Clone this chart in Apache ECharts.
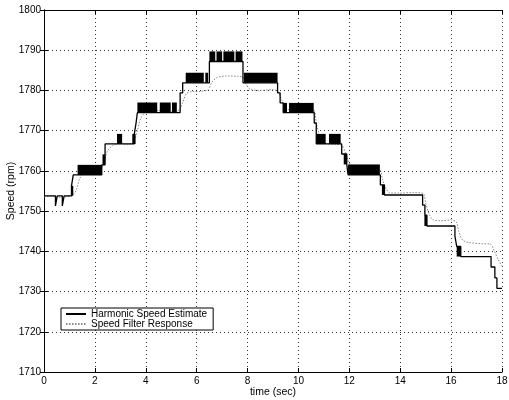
<!DOCTYPE html>
<html>
<head>
<meta charset="utf-8">
<script src="https://cdn.jsdelivr.net/npm/echarts@6/dist/echarts.min.js"></script>
<style>html,body{margin:0;padding:0;background:#fff;}#c{width:509px;height:400px;}</style>
</head>
<body>
<div id="c"></div>
<script>
// Harmonic Speed Estimate: step levels [time (sec), speed (rpm)], value held until next time
var estimateSteps = [
  [0, 1753.8], [0.45, 1751.3], [0.52, 1753.8], [0.72, 1751.3], [0.79, 1753.8],
  [1.08, 1756.3], [1.15, 1759.0], [2.27, 1761.5], [2.4, 1766.7],
  [3.55, 1769.2], [3.62, 1772.0], [3.67, 1774.5], [5.35, 1779.4], [5.45, 1781.9],
  [6.5, 1787.2], [7.82, 1781.9], [9.18, 1779.4], [9.28, 1776.9], [9.4, 1774.5],
  [10.62, 1771.9], [10.7, 1766.7], [11.7, 1764.2], [11.9, 1761.6], [11.95, 1759.0],
  [13.22, 1756.5], [13.38, 1754.0], [14.88, 1751.5], [14.97, 1749.0], [15.05, 1746.3],
  [16.15, 1743.8], [16.22, 1741.2], [16.38, 1738.7], [17.57, 1736.1], [17.72, 1733.4],
  [17.8, 1730.8], [18, 1730.8]
];
// Chattering bands of the estimate: [t start, t end, low rpm, high rpm]
var chatterBands = [
  [1.08, 1.15, 1753.8, 1756.3],
  [1.32, 2.27, 1759.0, 1761.5],
  [2.3, 2.4, 1761.5, 1764.1],
  [2.87, 3.07, 1766.7, 1769.2],
  [3.47, 3.6, 1766.7, 1769.2],
  [3.67, 4.45, 1774.5, 1777.0],
  [4.55, 4.98, 1774.5, 1777.0],
  [5.03, 5.22, 1774.5, 1777.0],
  [5.57, 6.28, 1781.9, 1784.4],
  [6.34, 6.45, 1781.9, 1784.4],
  [6.5, 6.73, 1787.2, 1789.7],
  [6.78, 7.0, 1787.2, 1789.7],
  [7.05, 7.48, 1787.2, 1789.7],
  [7.53, 7.8, 1787.2, 1789.7],
  [7.86, 9.18, 1781.9, 1784.4],
  [9.4, 9.55, 1774.5, 1776.9],
  [9.63, 10.6, 1774.5, 1776.9],
  [10.7, 11.07, 1766.7, 1769.2],
  [11.2, 11.66, 1766.7, 1769.2],
  [11.78, 11.9, 1761.6, 1764.2],
  [11.95, 13.2, 1759.0, 1761.6],
  [13.28, 13.38, 1754.0, 1756.5],
  [14.95, 15.05, 1746.3, 1749.0],
  [16.22, 16.38, 1738.7, 1741.2]
];
// Speed Filter Response: [time (sec), speed (rpm)]
var filterResponse = [
  [0, 1753.5], [0.3, 1753.7], [0.6, 1753.4], [0.9, 1753.6], [1.1, 1753.8], [1.25, 1755.0],
  [1.4, 1758.0], [1.6, 1759.8], [1.9, 1760.2], [2.2, 1760.3], [2.35, 1762.0], [2.5, 1765.0],
  [2.7, 1766.3], [3.0, 1766.8], [3.3, 1766.6], [3.5, 1767.0], [3.65, 1769.5], [3.8, 1773.0],
  [4.0, 1774.6], [4.5, 1775.0], [5.0, 1774.8], [5.3, 1775.0], [5.45, 1777.0], [5.6, 1779.2],
  [5.8, 1779.7], [6.2, 1779.8], [6.45, 1780.2], [6.6, 1782.0], [6.8, 1783.2], [7.2, 1783.6],
  [7.6, 1783.5], [7.8, 1783.3], [7.95, 1781.5], [8.1, 1780.3], [8.5, 1780.0], [9.0, 1780.2],
  [9.2, 1779.6], [9.35, 1777.5], [9.5, 1775.5], [9.7, 1775.2], [10.2, 1775.5], [10.6, 1775.2],
  [10.7, 1772.0], [10.85, 1768.5], [11.0, 1767.0], [11.5, 1766.6], [11.7, 1766.4], [11.85, 1764.5],
  [12.0, 1762.0], [12.2, 1760.8], [12.7, 1760.5], [13.2, 1760.3], [13.3, 1758.0], [13.45, 1755.5],
  [13.6, 1754.5], [14.0, 1754.5], [14.5, 1754.6], [14.9, 1754.4], [15.0, 1752.0], [15.15, 1749.0],
  [15.3, 1747.8], [15.6, 1747.6], [16.0, 1747.8], [16.2, 1747.3], [16.3, 1745.0], [16.45, 1742.8],
  [16.7, 1742.2], [17.2, 1741.9], [17.55, 1741.8], [17.7, 1740.0], [17.85, 1738.0], [18, 1736.3]
];
var xTicks = [0, 2, 4, 6, 8, 10, 12, 14, 16, 18];
var yTicks = [1710, 1720, 1730, 1740, 1750, 1760, 1770, 1780, 1790, 1800];

var font = 'Liberation Sans, Arial, Helvetica, sans-serif';
var chart = echarts.init(document.getElementById('c'), null, {renderer: 'canvas'});
var gridLine = {show: true, lineStyle: {color: '#000', width: 0.8, type: [1, 3]}};
var axLine = {show: true, lineStyle: {color: '#000', width: 1}};
var tick = {show: true, inside: true, length: 4, lineStyle: {color: '#000'}};
var plain = function (v) { return String(v); };
chart.setOption({
  backgroundColor: '#fff',
  animation: false,
  grid: {left: 44, right: 7, top: 10, bottom: 28, containLabel: false, outerBoundsMode: 'none'},
  legend: {
    data: ['Harmonic Speed Estimate', 'Speed Filter Response'],
    orient: 'vertical', left: 61, top: 308,
    backgroundColor: '#fff', borderColor: '#000', borderWidth: 1, borderRadius: 0,
    padding: [1, 6, 1, 4], itemGap: 0, itemWidth: 20, itemHeight: 12,
    itemStyle: {opacity: 0},
    textStyle: {fontFamily: font, fontSize: 10, color: '#000'}
  },
  xAxis: [{
    type: 'value', min: xTicks[0], max: xTicks[xTicks.length - 1], interval: 2,
    name: 'time (sec)', nameLocation: 'middle', nameGap: 15, nameMoveOverlap: false,
    nameTextStyle: {fontFamily: font, fontSize: 10.5, color: '#000'},
    axisLine: axLine, axisTick: tick, splitLine: gridLine,
    axisLabel: {fontFamily: font, fontSize: 10, color: '#000', margin: 4, formatter: plain}
  }, {
    type: 'value', position: 'top', min: xTicks[0], max: xTicks[xTicks.length - 1], interval: 2,
    axisLine: axLine, axisTick: tick, splitLine: {show: false}, axisLabel: {show: false}
  }],
  yAxis: [{
    type: 'value', min: yTicks[0], max: yTicks[yTicks.length - 1], interval: 10,
    name: 'Speed (rpm)', nameLocation: 'middle', nameGap: 27, nameMoveOverlap: false,
    nameTextStyle: {fontFamily: font, fontSize: 10.5, color: '#000'},
    axisLine: axLine, axisTick: tick, splitLine: gridLine,
    axisLabel: {fontFamily: font, fontSize: 10, color: '#000', margin: 3, formatter: plain}
  }, {
    type: 'value', position: 'right', min: yTicks[0], max: yTicks[yTicks.length - 1], interval: 10,
    axisLine: axLine, axisTick: tick, splitLine: {show: false}, axisLabel: {show: false}
  }],
  series: [{
    name: 'Speed Filter Response', type: 'line', data: filterResponse,
    symbol: 'none', smooth: 0.3, z: 2,
    lineStyle: {color: '#888', width: 1, type: [1.5, 1.5]},
    itemStyle: {color: '#888'}
  }, {
    name: 'Harmonic Speed Estimate', type: 'line', data: estimateSteps,
    step: 'end', symbol: 'none', z: 3,
    lineStyle: {color: '#000', width: 1.3},
    itemStyle: {color: '#000'}
  }, {
    name: 'chatter', type: 'custom', data: chatterBands, z: 4,
    renderItem: function (params, api) {
      var p0 = api.coord([api.value(0), api.value(3)]);
      var p1 = api.coord([api.value(1), api.value(2)]);
      return {type: 'rect', shape: {x: p0[0], y: p0[1], width: p1[0] - p0[0], height: p1[1] - p0[1]},
              style: {fill: '#000'}};
    },
    encode: {x: [0, 1], y: [2, 3]}
  }]
});
</script>
</body>
</html>
